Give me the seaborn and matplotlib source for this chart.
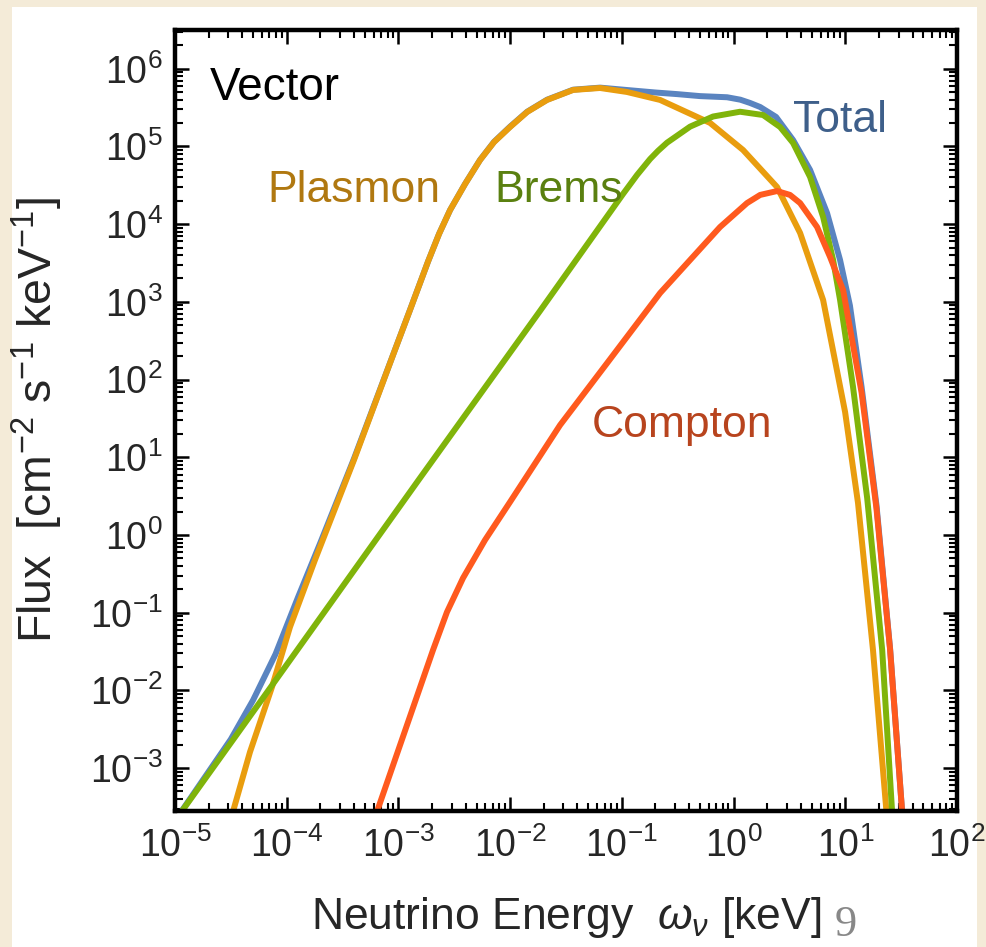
import numpy as np
import pandas as pd
import matplotlib
matplotlib.use("Agg")
import matplotlib.pyplot as plt
import seaborn as sns
from matplotlib.patches import Rectangle
from matplotlib.ticker import LogLocator, NullFormatter

# ---------------- data ----------------
energy_total = [1.0e-5, 3.16e-5, 5.0e-5, 7.94e-5, 1.26e-4, 2.0e-4, 4.0e-4, 8.95e-4, 1.27e-3,
                1.84e-3, 2.31e-3, 2.90e-3, 3.95e-3, 5.38e-3, 7.18e-3, 9.98e-3, 1.42e-2, 2.14e-2,
                3.66e-2, 6.38e-2, 0.111, 0.2, 0.312, 0.5, 0.875, 1.15, 1.405, 1.73, 2.40, 3.41,
                4.84, 6.87, 8.98, 11.0, 14.0, 19.0, 25.2, 32.8]
flux_total = [2.1e-4, 2.35e-3, 7.5e-3, 2.93e-2, 0.157, 0.795, 9.6, 208, 790,
              3300, 7.5e3, 1.52e4, 3.3e4, 6.72e4, 1.15e5, 1.80e5, 2.80e5, 4.0e5,
              5.38e5, 5.72e5, 5.33e5, 4.95e5, 4.72e5, 4.45e5, 4.30e5, 4.0e5, 3.63e5, 3.22e5,
              2.40e5, 1.21e5, 4.99e4, 1.39e4, 3.46e3, 900, 80, 2.45, 3.4e-2, 2.0e-4]

energy_plasmon = [3.1e-5, 4.69e-5, 7.39e-5, 1.07e-4, 1.79e-4, 4.00e-4, 8.95e-4, 1.27e-3, 1.84e-3,
                  2.31e-3, 2.90e-3, 3.95e-3, 5.38e-3, 7.18e-3, 9.98e-3, 1.42e-2, 2.14e-2, 3.66e-2,
                  6.38e-2, 0.111, 0.220, 0.616, 1.216, 2.45, 3.94, 6.33, 9.96, 13.0, 17.7, 23.8]
flux_plasmon = [2.0e-4, 1.61e-3, 1.11e-2, 6.55e-2, 0.477, 9.23, 207, 787, 3300,
                7.48e3, 1.52e4, 3.29e4, 6.70e4, 1.14e5, 1.78e5, 2.78e5, 3.97e5, 5.34e5,
                5.66e5, 5.03e5, 3.97e5, 2.01e5, 9.01e4, 3.01e4, 7.71e3, 1.06e3, 38.3, 2.58,
                3.31e-2, 2.0e-4]

energy_brems = [1.0e-5, 7.09e-5, 1.56e-3, 1.85e-2, 0.1025, 0.1368, 0.179, 0.211, 0.254, 0.408,
                0.655, 1.143, 1.837, 2.61, 3.41, 4.84, 6.33, 7.78, 8.98, 11.7, 15.7, 21.4, 26.6]
flux_brems = [2.1e-4, 1.07e-2, 5.41, 764, 2.45e4, 4.30e4, 6.9e4, 8.8e4, 1.12e5, 1.80e5,
              2.43e5, 2.80e5, 2.54e5, 1.78e5, 1.11e5, 4.05e4, 1.24e4, 3.46e3, 1.06e3, 82.7,
              2.99, 3.31e-2, 2.0e-4]

energy_compton = [5.95e-4, 2.04e-3, 2.72e-3, 3.79e-3, 5.96e-3, 9.98e-3, 2.80e-2, 7.52e-2, 0.220,
                  0.408, 0.757, 1.32, 1.73, 2.45, 3.20, 3.94, 5.59, 7.31, 9.56, 14.0, 19.0, 25.2, 32.8]
flux_compton = [2.0e-4, 3.31e-2, 0.102, 0.280, 0.862, 2.66, 26.0, 169, 1.30e3,
                3.46e3, 9.20e3, 1.87e4, 2.38e4, 2.67e4, 2.38e4, 1.87e4, 9.20e3, 3.78e3, 1.42e3,
                67.6, 2.22, 3.31e-2, 2.0e-4]

series_names = ["Total", "Plasmon", "Brems", "Compton"]
x_ticks = [1e-5, 1e-4, 1e-3, 1e-2, 1e-1, 1e0, 1e1, 1e2]
y_ticks = [1e-3, 1e-2, 1e-1, 1e0, 1e1, 1e2, 1e3, 1e4, 1e5, 1e6]

# ---------------- styling ----------------
sns.set_theme(style="white")
plt.rcParams["font.family"] = ["Liberation Sans", "DejaVu Sans"]
plt.rcParams["mathtext.fontset"] = "custom"
plt.rcParams["mathtext.rm"] = "Liberation Sans"
plt.rcParams["mathtext.it"] = "Liberation Sans:italic"
plt.rcParams["mathtext.bf"] = "Liberation Sans:bold"
plt.rcParams["axes.unicode_minus"] = True

line_colors = {"Total": "#5A84C0", "Plasmon": "#E99D0E", "Brems": "#80B40A", "Compton": "#FF5A1E"}
text_colors = {"Total": "#3E5F8A", "Plasmon": "#B07810", "Brems": "#5A8010", "Compton": "#B8441E"}

frames = []
for name, e, f in [("Total", energy_total, flux_total),
                   ("Plasmon", energy_plasmon, flux_plasmon),
                   ("Brems", energy_brems, flux_brems),
                   ("Compton", energy_compton, flux_compton)]:
    frames.append(pd.DataFrame({"energy": e, "flux": f, "process": name}))
df = pd.concat(frames, ignore_index=True)

fig = plt.figure(figsize=(9.87, 9.47), dpi=100)
fig.patch.set_facecolor("#F4EBD8")
fig.patches.append(Rectangle((12 / 987, 0), (977 - 12) / 987, 1 - 7 / 947,
                             transform=fig.transFigure, facecolor="white",
                             edgecolor="none", zorder=-10))

ax = fig.add_axes([175 / 987, 1 - 811 / 947, (957 - 175) / 987, (811 - 30) / 947])
ax.set_facecolor("white")
ax.set_xscale("log")
ax.set_yscale("log")

for name in series_names:
    sub = df[df["process"] == name]
    sns.lineplot(data=sub, x="energy", y="flux", ax=ax, color=line_colors[name],
                 linewidth=4.3, estimator=None, sort=True, legend=False,
                 solid_capstyle="butt", solid_joinstyle="round")

ax.xaxis.set_major_locator(LogLocator(base=10, numticks=30))
ax.yaxis.set_major_locator(LogLocator(base=10, numticks=30))
ax.xaxis.set_minor_locator(LogLocator(base=10, subs=np.arange(2, 10), numticks=300))
ax.yaxis.set_minor_locator(LogLocator(base=10, subs=np.arange(2, 10), numticks=300))
ax.xaxis.set_minor_formatter(NullFormatter())
ax.yaxis.set_minor_formatter(NullFormatter())
ax.set_xticks(x_ticks)
ax.set_yticks(y_ticks)
ax.set_xlim(1e-5, 1e2)
ax.set_ylim(10 ** -3.552, 10 ** 6.499)

ax.tick_params(which="both", direction="in", top=True, right=True, left=True, bottom=True,
               color="black")
ax.tick_params(which="major", length=10, width=1.8, labelsize=27)
ax.tick_params(which="minor", length=5.5, width=1.5)
ax.tick_params(axis="x", which="major", pad=12)
ax.tick_params(axis="y", which="major", pad=9)
for s in ax.spines.values():
    s.set_linewidth(3.2)
    s.set_color("black")

ax.set_xlabel(r"Neutrino Energy  $\omega_\nu$ [keV]", fontsize=32)
ax.set_ylabel(r"Flux  [cm$^{-2}$ s$^{-1}$ keV$^{-1}$]", fontsize=33.5)
ax.xaxis.set_label_coords(0.5, -0.108)
ax.yaxis.set_label_coords(-0.141, 0.5)

# text labels on the curves
ax.text(0.045, 0.910, "Vector", transform=ax.transAxes, fontsize=33, color="black", va="baseline")
ax.text(0.790, 0.869, "Total", transform=ax.transAxes, fontsize=32, color=text_colors["Total"], va="baseline")
ax.text(0.1176, 0.780, "Plasmon", transform=ax.transAxes, fontsize=32, color=text_colors["Plasmon"], va="baseline")
ax.text(0.409, 0.780, "Brems", transform=ax.transAxes, fontsize=32, color=text_colors["Brems"], va="baseline")
ax.text(0.533, 0.479, "Compton", transform=ax.transAxes, fontsize=32, color=text_colors["Compton"], va="baseline")

# slide page number
fig.text(835 / 987, 1 - 945 / 947, "9", fontsize=32, family="Liberation Serif",
         color="#888888", va="bottom", ha="left")

fig.savefig("out.png", dpi=100, facecolor=fig.get_facecolor())
